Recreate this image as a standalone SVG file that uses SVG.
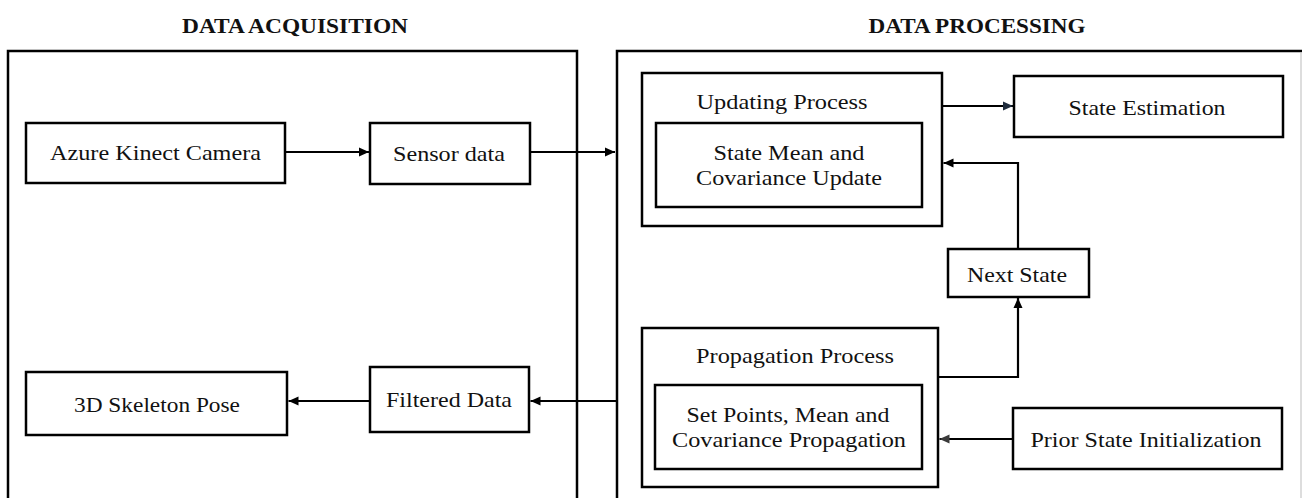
<svg xmlns="http://www.w3.org/2000/svg" width="1302" height="498" viewBox="0 0 1302 498">
<style>
.box{fill:#fff;stroke:#000;stroke-width:2.5}
.frame{fill:none;stroke:#000;stroke-width:2.5}
.t{font-family:"Liberation Serif","Times New Roman",serif;font-size:22px;fill:#111;text-anchor:middle}
.h{font-family:"Liberation Serif","Times New Roman",serif;font-size:22px;font-weight:bold;fill:#111;text-anchor:middle}
.c{fill:none;stroke:#000;stroke-width:2.2}
</style>
<defs>
<marker id="ah" markerUnits="userSpaceOnUse" markerWidth="12" markerHeight="10" refX="10" refY="5" orient="auto"><path d="M0,0.5 L10,5 L0,9.5 Z" fill="#000"/></marker>
<marker id="ahn" markerUnits="userSpaceOnUse" markerWidth="12" markerHeight="10" refX="10" refY="5" orient="auto"><path d="M0,0.5 L10,5 L0,9.5 Z" fill="#1e2b3c"/></marker>
<marker id="ahg" markerUnits="userSpaceOnUse" markerWidth="12" markerHeight="10" refX="10" refY="5" orient="auto"><path d="M0,0.5 L10,5 L0,9.5 Z" fill="#3a3a3a"/></marker>
</defs>
<rect width="1302" height="498" fill="#fff"/>
<g id="acquisition">
<text class="h" x="295" y="33" textLength="226" lengthAdjust="spacingAndGlyphs">DATA ACQUISITION</text>
<path class="frame" d="M8,500 V51 H577 V500"/>
</g>
<g id="processing">
<text class="h" x="977" y="33" textLength="217" lengthAdjust="spacingAndGlyphs">DATA PROCESSING</text>
<path class="frame" d="M617,500 V51 H1302"/>
<line x1="1301" y1="52" x2="1301" y2="498" stroke="#bbb" stroke-width="1"/>
</g>
<g id="azure">
<rect class="box" x="26" y="123" width="259" height="60"/>
<text class="t" x="155.5" y="160" textLength="211" lengthAdjust="spacingAndGlyphs">Azure Kinect Camera</text>
</g>
<g id="sensor">
<rect class="box" x="370" y="123" width="160" height="61"/>
<text class="t" x="449" y="161" textLength="112" lengthAdjust="spacingAndGlyphs">Sensor data</text>
</g>
<g id="skeleton">
<rect class="box" x="26" y="372" width="261" height="63"/>
<text class="t" x="157" y="412" textLength="166" lengthAdjust="spacingAndGlyphs">3D Skeleton Pose</text>
</g>
<g id="filtered">
<rect class="box" x="370" y="367" width="159" height="65"/>
<text class="t" x="449" y="407" textLength="126" lengthAdjust="spacingAndGlyphs">Filtered Data</text>
</g>
<g id="updating">
<rect class="box" x="642" y="73" width="300" height="153"/>
<text class="t" x="782" y="108.5" textLength="171" lengthAdjust="spacingAndGlyphs">Updating Process</text>
</g>
<g id="update">
<rect class="box" x="656" y="123" width="266" height="84"/>
<text class="t" x="789" y="160" textLength="151" lengthAdjust="spacingAndGlyphs">State Mean and</text>
<text class="t" x="789" y="185" textLength="186" lengthAdjust="spacingAndGlyphs">Covariance Update</text>
</g>
<g id="estimation">
<rect class="box" x="1014" y="76" width="269" height="61"/>
<text class="t" x="1147" y="115" textLength="157" lengthAdjust="spacingAndGlyphs">State Estimation</text>
</g>
<g id="next">
<rect class="box" x="948" y="249" width="141" height="48"/>
<text class="t" x="1017" y="282" textLength="100" lengthAdjust="spacingAndGlyphs">Next State</text>
</g>
<g id="propagation">
<rect class="box" x="642" y="328" width="296" height="159"/>
<text class="t" x="795" y="363" textLength="198" lengthAdjust="spacingAndGlyphs">Propagation Process</text>
</g>
<g id="propagate">
<rect class="box" x="655" y="385" width="267" height="84"/>
<text class="t" x="788" y="422" textLength="203" lengthAdjust="spacingAndGlyphs">Set Points, Mean and</text>
<text class="t" x="789" y="447" textLength="234" lengthAdjust="spacingAndGlyphs">Covariance Propagation</text>
</g>
<g id="prior">
<rect class="box" x="1013" y="408" width="269" height="61"/>
<text class="t" x="1146" y="447" textLength="231" lengthAdjust="spacingAndGlyphs">Prior State Initialization</text>
</g>
<g id="connectors">
<line class="c" x1="286" y1="152" x2="369" y2="152" marker-end="url(#ah)"/>
<line class="c" x1="531" y1="152" x2="615" y2="152" marker-end="url(#ah)"/>
<line class="c" x1="943" y1="106" x2="1013" y2="106" stroke="#1e2b3c" marker-end="url(#ahn)"/>
<polyline class="c" points="1018,248 1018,163 943.5,163" marker-end="url(#ah)"/>
<polyline class="c" points="939,377 1018,377 1018,298" marker-end="url(#ah)"/>
<line class="c" x1="1012" y1="439" x2="939.5" y2="439" stroke="#3a3a3a" marker-end="url(#ahg)"/>
<line class="c" x1="616" y1="401" x2="530.5" y2="401" marker-end="url(#ah)"/>
<line class="c" x1="369" y1="401" x2="288.5" y2="401" marker-end="url(#ah)"/>
</g>
</svg>
